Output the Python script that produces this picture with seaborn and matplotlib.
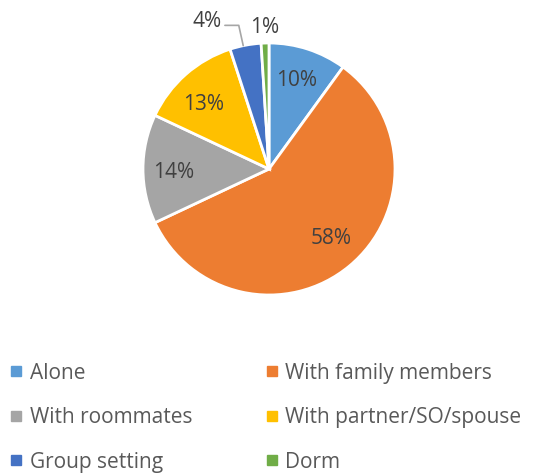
import matplotlib
matplotlib.use("Agg")
import numpy as np
import matplotlib.pyplot as plt
from matplotlib.lines import Line2D
import seaborn as sns

# ==========================================
# Data
# ==========================================
categories = ["Alone", "With family members", "With roommates",
              "With partner/SO/spouse", "Group setting", "Dorm"]
shares = [10, 58, 14, 13, 4, 1]
colors = ["#5B9BD5", "#ED7D31", "#A5A5A5", "#FFC000", "#4472C4", "#70AD47"]
# radial position of each percentage label (fraction of radius)
label_radius = [0.74, 0.74, 0.76, 0.73, 1.27, 1.12]
# angular nudge (deg) to mimic the original label placement
label_nudge = [0.5, 2.4, 2, 3.8, 12, 0]

sns.set_theme(style="white")
plt.rcParams["font.family"] = ["Open Sans", "DejaVu Sans"]

fig = plt.figure(figsize=(5.41, 4.74), dpi=100)
ax = fig.add_axes([143 / 541, 179 / 474, 252 / 541, 252 / 474])

wedges, _ = ax.pie(shares, colors=colors, startangle=90, counterclock=False,
                   radius=1.0,
                   wedgeprops=dict(edgecolor="white", linewidth=2))
ax.set_xlim(-1, 1)
ax.set_ylim(-1, 1)
ax.set_aspect("equal")
ax.axis("off")

# ==========================================
# Percentage labels
# ==========================================
for w, val, r, nudge in zip(wedges, shares, label_radius, label_nudge):
    ang = np.deg2rad((w.theta1 + w.theta2) / 2 + nudge)
    x, y = r * np.cos(ang), r * np.sin(ang)
    ax.text(x, y, f"{val}%", ha="center", va="center",
            fontsize=15, color="#404040")

# leader line for the small "Group setting" slice
g = wedges[4]
ga = np.deg2rad((g.theta1 + g.theta2) / 2 + 1)
ax.plot([np.cos(ga), -0.24, -0.35],
        [np.sin(ga), 1.14, 1.14],
        color="#A6A6A6", linewidth=1.2, clip_on=False)

# ==========================================
# Legend (filled row by row like the original)
# ==========================================
handles = [Line2D([0], [0], marker="s", linestyle="", markersize=6.5,
                  markerfacecolor=c, markeredgecolor=c) for c in colors]
order = [0, 2, 4, 1, 3, 5]
leg = fig.legend([handles[i] for i in order], [categories[i] for i in order],
                 ncol=2, loc="upper left", bbox_to_anchor=(0.015, 0.235),
                 frameon=False, fontsize=15, borderpad=0, borderaxespad=0,
                 handlelength=0.8, handletextpad=0.25,
                 columnspacing=3.4, labelspacing=1.13)
for t in leg.get_texts():
    t.set_color("#595959")

plt.savefig("out.png", dpi=100)
